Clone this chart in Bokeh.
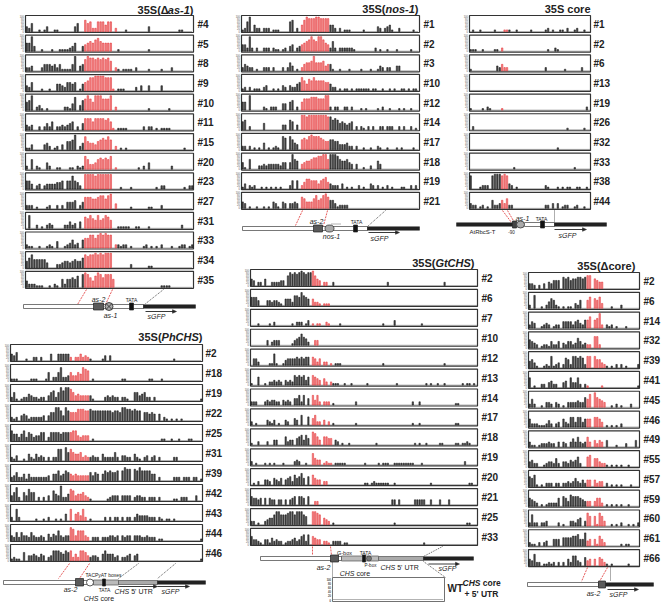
from bokeh.plotting import figure
from bokeh.models import ColumnDataSource, Range1d
from bokeh.embed import file_html
from bokeh.resources import INLINE
from bokeh.core.properties import value

FONT = "Liberation Sans"

# ---------------- data (methylation level per cytosine, digit = tenths of 90%) -------------
AS1_LABELS = ["#4", "#5", "#8", "#9", "#10", "#11", "#15", "#20", "#23", "#27", "#31", "#33", "#34", "#35"]
AS1_ROWS = [
    "3250010130" "0110000003" "5007562266" "6466020001" "0000000030" "0000000000" "110000",
    "5593001000" "1001111235" "0034565786" "5555001000" "0000000010",
    "2230002444" "3424111149" "0347988787" "8786021011" "1102000010" "0001000200",
    "3250001001" "0044325545" "0145688999" "9888101110" "0002030030" "0003000000",
    "5690231010" "0000022148" "0367975999" "7779020000" "0000000010" "0000001000",
    "3230020242" "5022323450" "2047775777" "7675101111" "0000002022" "0101111000",
    "1130000342" "0120305569" "0248544356" "7686020101" "0000000000" "0000000000" "001000",
    "2060210042" "0011000110" "2128633467" "6768010000" "0000102040" "0000000200",
    "5530230233" "3344505585" "4209999899" "9999000100" "0100000000" "0102200000" "001022",
    "2220100012" "0020204445" "0247776678" "8689030000" "0100000011" "0002000000",
    "0800201023" "2000022423" "0407686585" "6875001111" "1001100010" "0000000000" "020000",
    "2110010012" "1040012352" "3056688689" "8988022122" "0100001201" "0102000100" "122012",
    "4685555530" "0022344345" "4468788989" "8999000000" "0200000011",
    "4222111001" "0210525565" "7089864798" "6888500000" "0000000000" "0001111000",
]

NOS_LABELS = ["#1", "#2", "#3", "#10", "#12", "#14", "#17", "#18", "#19", "#21"]
NOS_ROWS = [
    "1269042202" "2201110000" "6702047988" "8998888442" "0201110000" "0100000320" "2341002000" "00100",
    "4429202002" "2202110120" "3402345679" "7699754262" "0222222100" "0000002010" "0100010000" "01000",
    "2432201002" "2202000202" "5301024556" "9555634410" "0100010000" "1000100132" "0220033000",
    "1202011102" "3001010320" "3224586476" "8666655422" "0101101011" "1111011001" "0010100110" "10110",
    "5509000002" "1022200440" "5602057778" "8877799202" "2002202000" "1010000102" "0010001010" "01000",
    "5602000004" "0000000330" "6503099899" "9999998867" "6454345020" "2102020022" "0222002020" "02010",
    "2202010104" "0101210870" "8643067689" "8887655665" "5333422020" "0100100210" "0100010100" "00100",
    "4106000223" "2333332440" "4965034556" "7788996999" "8655643030" "0100200530",
    "1302120010" "1010101000" "2505024665" "5535674322" "2030101002" "0100320201" "0201000110" "02020",
    "4301001001" "0104310430" "3343076444" "6856897553" "1222200000",
]

CORE_LABELS = ["#1", "#2", "#6", "#13", "#19", "#26", "#32", "#33", "#38", "#44"]
CORE_ROWS = [
    "0100100000" "1000111001" "0000010000" "0120100110" "2001200100",
    "1110010000" "1102000000" "0000000000" "0010021000",
    "1000000000" "0324220000" "0000000000" "0200000001" "0000002000",
    "",
    "1000010210" "0001000000" "0000000000" "0000000000" "0000000020",
    "0200000000" "0000000000" "0000000000" "0000000000" "1000000100",
    "0000000000" "0000000000" "0000000000" "0000001000",
    "0000000000" "0000000010" "0000000000" "0000000000" "0001000000",
    "8000122208" "9998983201" "0000000000" "0210001010" "1100110010",
    "3220120105" "2235362200" "0000000000" "0220303012" "2001200100",
]

PH_LABELS = ["#2", "#18", "#19", "#22", "#25", "#31", "#39", "#42", "#43", "#44", "#46"]
PH_ROWS = [
    "4350001002" "2020004004" "4444202242" "3210000130" "3000000000" "0000000000" "0000001000",
    "1110000011" "1000150225" "8223533548" "7601000000" "0000011000" "0000001100" "0100000000",
    "2510122432" "2122035625" "8688753433" "3331000023" "2322022100" "5534522020" "0000000000" "00000001",
    "2120343122" "2223035588" "6386555777" "6676666666" "6566588776" "7660554540" "4021010101",
    "6442462542" "3355025555" "4555566323" "3301000000" "0000000000" "0000000000" "0110010010" "00110000",
    "2130010421" "4232020227" "7085754452" "3223220422" "2252033220" "4210230230" "2000002200",
    "2352241422" "2222230446" "3465434333" "3353540465" "6556068770" "7686666440" "2000002220" "22202201",
    "3582053755" "0202030643" "9224763445" "3210000001" "2333033330" "2332202220" "2000001102" "22000300",
    "2072000000" "1001020010" "1040704537" "2010000020" "2022020220" "2433332220" "2101101000",
    "3252533253" "2232042436" "3233873666" "3202220222" "3323032330" "3332232220" "1100000000" "00000001",
    "1211050334" "3243023666" "5465624266" "5323320464" "4423022340" "3400000000" "0000000000" "00000001",
]

GT_LABELS = ["#2", "#6", "#7", "#10", "#12", "#13", "#14", "#17", "#18", "#19", "#20", "#21", "#25", "#33"]
GT_ROWS = [
    "4302204002" "2223306878" "7898788964" "3022002000" "0000000000" "0000000000" "2000000000" "0000000000" "0000020000",
    "5553000332" "3321044426" "6586540422" "1011100000",
    "0001000010" "2000000010" "2220130101" "1002100001" "0000000000" "0000000010" "0003000000" "0000010000",
    "0000000302" "3330000013" "4575420033",
    "0442000011" "7100134444" "5454550542" "4022010111" "0000000000" "0000000010" "0000000000" "0000000000" "0000010000",
    "1005001022" "3232032326" "5656350654" "3042021110" "0100100000" "0100000000" "0000100000" "0000000101" "0010010000" "0001011010",
    "2220002323" "3220323204" "4626040636" "2022201000" "0000002000" "0000000000" "0000000000" "0200200000" "0000000000" "1100000000",
    "2010000321" "3010032004" "3060050462" "2030201000" "0000001000" "0000000000" "0000000000" "0100100000" "0000000000" "1100000000",
    "1002000200" "3300052330" "4563640875" "3055440320" "1001000000" "0000010000" "0000000000" "0010100100" "0001100000" "1101121000",
    "2010001010" "1000100002" "3200100743" "3012110111" "1100000000" "1000001011" "1001111111" "1100010000" "0000000000" "0000200000",
    "0102003320" "4324034526" "4574050643" "3022000000" "0000000000" "1101211111" "1001000000" "0000000001" "0000000000" "0000001100",
    "5443404043" "3033030345" "0554050022" "0000000000" "0000000000" "0000000000" "0033030000" "0033333003" "0003000300",
    "2201002344" "6886667886" "8886500887" "6043201000" "0000000000" "0000000000" "0001000000" "0000000000" "0000000000" "0000011000",
    "5332103314" "2322012234" "2356260543" "3022102222" "0110000000" "0000000000" "0000000000" "0000001000",
]

DC_LABELS = ["#2", "#6", "#14", "#32", "#39", "#41", "#45", "#46", "#49", "#55", "#57", "#59", "#60", "#61", "#66"]
DC_ROWS = [
    "3320203043" "5550767566" "7767880654" "4000000000",
    "2080010246" "5210101103" "2500570657" "3000100020",
    "2430012320" "1220444424" "5325570569" "2021201000" "100000",
    "5432012214" "2240324423" "6423220772",
    "4531001217" "1230265277" "6762770755" "3210102020" "100002",
    "6010022034" "2200340633" "6202100000" "1000000000" "000001",
    "2520010332" "0320103333" "4336580965" "4300102010" "002000",
    "5222111242" "0230532663" "6635550665" "3010101020",
    "3110122232" "2030320353" "6323630424" "3040001000" "200040",
    "3422001233" "2520332434" "6200670553" "2210101010" "010000",
    "6571010222" "0220223235" "3242440423" "3020101010" "001000",
    "5432010122" "2250653766" "6543330355" "2010101010" "010000",
    "2722022300" "0020100332" "4503860618" "6300101020" "010102",
    "2110202300" "4440555566" "7448340416" "4200000010" "110000",
    "4372201121" "2020204266" "3205340405" "4210100000" "010000",
]

Y_TICKS = ["0", "20", "40", "60", "80", "100"]

PANELS = [
    dict(title=[("35S(Δ", False), ("as-1", True), (")", False)], tx=193, ty=9,
         x0=25, x1=193, y0=24, pitch=19.68, n=66, red=(23, 35), labels=AS1_LABELS, rows=AS1_ROWS, lx=197),
    dict(title=[("35S(", False), ("nos-1", True), (")", False)], tx=418, ty=8,
         x0=241, x1=419, y0=24, pitch=19.65, n=75, red=(25, 36), labels=NOS_LABELS, rows=NOS_ROWS, lx=423),
    dict(title=[("35S core", False)], tx=590, ty=8,
         x0=469, x1=590, y0=24, pitch=19.65, n=50, red=(13, 15), labels=CORE_LABELS, rows=CORE_ROWS, lx=593),
    dict(title=[("35S(", False), ("PhCHS", True), (")", False)], tx=202, ty=336,
         x0=10, x1=202, y0=353, pitch=20.0, n=78, red=(24, 31), labels=PH_LABELS, rows=PH_ROWS, lx=205),
    dict(title=[("35S(", False), ("GtCHS", True), (")", False)], tx=474, ty=262,
         x0=250, x1=477, y0=278, pitch=19.92, n=100, red=(27, 35), labels=GT_LABELS, rows=GT_ROWS, lx=481),
    dict(title=[("35S(Δcore)", False)], tx=634, ty=265,
         x0=528, x1=639, y0=281, pitch=19.79, n=46, red=(24, 31), labels=DC_LABELS, rows=DC_ROWS, lx=643),
]

# ---------------- figure ----------------
W, H = 661, 603
p = figure(width=W, height=H, x_range=Range1d(0, W), y_range=Range1d(H, 0),
           output_backend="svg", toolbar_location=None, min_border=0,
           x_axis_location=None, y_axis_location=None)
p.grid.visible = False
p.outline_line_color = None
p.background_fill_color = "white"

BW = {'3': 556, '5': 556, 'S': 667, '(': 333, ')': 333, 'Δ': 640, 'a': 556, 's': 556, '-': 333,
      '1': 556, 'n': 611, 'o': 611, ' ': 278, 'c': 556, 'r': 389, 'e': 556, 'P': 667, 'h': 611,
      'C': 722, 'H': 722, 'G': 778, 't': 333, "'": 238, 'U': 722, 'T': 611, 'R': 722}


def seg_w(s, size):
    return sum(BW.get(c, 556) for c in s) / 1000 * size


def txt(x, y, s, size, style="normal", align="left", color="#222", baseline="middle"):
    p.text(x=[x], y=[y], text=[s], text_font=value(FONT), text_font_size=f"{size}px",
           text_font_style=style, text_align=align, text_baseline=baseline, text_color=color)


def mixed(x, y, segs, size, bold=False, align="left", color="#222"):
    total = sum(seg_w(s, size) for s, _ in segs)
    if align == "right":
        x = x - total
    elif align == "center":
        x = x - total / 2
    for s, it in segs:
        st = ("bold " if bold else "") + ("italic" if it else "")
        st = st.strip() or "normal"
        lead = len(s) - len(s.lstrip(" "))
        x += lead * seg_w(" ", size)
        s2 = s.strip(" ")
        txt(x, y, s2, size, style=st, color=color)
        x += seg_w(s2, size)


bars = dict(x=[], top=[], bottom=[], fill=[], line=[], w=[])
boxes = dict(l=[], r=[], t=[], b=[])
base = dict(xs=[], ys=[])
ticks = dict(x=[], y=[], t=[])
labs = dict(x=[], y=[], t=[])


def add_ticks(x0, top, bot):
    for k, t in enumerate(Y_TICKS):
        ticks["x"].append(x0 - 1.5)
        ticks["y"].append(bot - 1 - k * (bot - top - 2) / 5)
        ticks["t"].append(t)


for cfg in PANELS:
    x0, x1, n = cfg["x0"], cfg["x1"], cfg["n"]
    dx = (x1 - x0) / n
    r0, r1 = cfg["red"]
    mixed(cfg["tx"], cfg["ty"], cfg["title"], 11, bold=True, align="right")
    for i, (lab, row) in enumerate(zip(cfg["labels"], cfg["rows"])):
        ly = cfg["y0"] + i * cfg["pitch"]
        top, bot = ly - 9, ly + 8
        boxes["l"].append(x0); boxes["r"].append(x1); boxes["t"].append(top); boxes["b"].append(bot)
        base["xs"].append([x0 + 1, x1 - 1]); base["ys"].append([bot - 1, bot - 1])
        add_ticks(x0, top, bot)
        labs["x"].append(cfg["lx"]); labs["y"].append(ly); labs["t"].append(lab)
        lv = [int(c) for c in row.ljust(n, "0")[:n]]
        for j, v in enumerate(lv):
            if v == 0:
                continue
            red = r0 <= j <= r1
            bars["x"].append(x0 + (j + 0.5) * dx)
            bars["bottom"].append(bot - 1)
            bars["top"].append(bot - 1 - v / 9 * (bot - top - 2.5))
            bars["fill"].append("#f28b8b" if red else "#4a4a4a")
            bars["line"].append("#e3262b" if red else "#111111")
            bars["w"].append(dx * 0.6)

p.quad(left="l", right="r", top="t", bottom="b", source=ColumnDataSource(boxes),
       fill_color="white", line_color="#333333", line_width=1.2)
p.multi_line(xs="xs", ys="ys", source=ColumnDataSource(base), line_color="#666666",
             line_width=1, line_dash="1 1")
p.vbar(x="x", width="w", top="top", bottom="bottom", fill_color="fill", line_color="line",
       line_width=0.5, source=ColumnDataSource(bars))
p.text(x="x", y="y", text="t", source=ColumnDataSource(ticks), text_font=value(FONT),
       text_font_size="2.6px", text_align="right", text_baseline="middle", text_color="#555555")
p.text(x="x", y="y", text="t", source=ColumnDataSource(labs), text_font=value(FONT),
       text_font_size="10px", text_font_style="bold", text_align="left", text_baseline="middle",
       text_color="#222222")


# ---------------- construct diagrams ----------------
def wbar(a, b, y, h=4):
    p.quad(left=[a], right=[b], top=[y - h / 2], bottom=[y + h / 2], fill_color="white",
           line_color="#555555", line_width=0.8)


def kbar(a, b, y, h=3.5):
    p.quad(left=[a], right=[b], top=[y - h / 2], bottom=[y + h / 2], fill_color="#222222",
           line_color="#222222", line_width=0.5)


def rect(a, b, t, bt, fill, line="#222222"):
    p.quad(left=[a], right=[b], top=[t], bottom=[bt], fill_color=fill, line_color=line, line_width=0.7)


def dotted(a, b, y):
    wbar(a, b, y)
    p.line([a + 1, b - 1], [y, y], line_color="#555555", line_width=3, line_dash="1 1")


def link(xa, ya, xb, yb, red=True):
    p.line([xa, xb], [ya, yb], line_color="#e03030" if red else "#333333", line_width=0.8,
           line_dash="2 1" if red else "1 1")


def arrow(a, b, y):
    p.line([a, b - 2], [y, y], line_color="#222222", line_width=0.9)
    p.patch([b - 4, b, b - 4], [y - 1.8, y, y + 1.8], fill_color="#222222", line_color="#222222",
            line_width=0.5)


# 35S(Δas-1)
link(86, 289, 77, 304); link(112, 289, 105, 304); link(163, 289, 144, 304, red=False)
wbar(23, 143, 306)
rect(93, 103, 302.5, 309.5, "#5a5a5a")
p.scatter([108.5], [306], marker="circle_x", size=8, fill_color="#aaaaaa", line_color="#222222",
          line_width=0.8)
rect(129, 133, 302.5, 309.5, "#111111")
kbar(143, 195, 306)
txt(98, 299, "as-2", 7, "italic", "center")
txt(110, 315, "as-1", 7, "italic", "center")
txt(131, 299, "TATA", 5, "normal", "center")
arrow(145, 176, 311)
txt(156, 316, "sGFP", 7, "italic", "center")

# 35S(nos-1)
link(302, 210, 295, 225); link(327, 210, 323, 225); link(385, 210, 367, 226, red=False)
wbar(242, 367, 228)
rect(313, 322, 224.5, 231.5, "#5a5a5a")
p.ellipse(x=[329], y=[228], width=9, height=7, fill_color="#aaaaaa", line_color="#333333",
          line_width=0.8)
p.line([331, 341], [223.5, 223.5], line_color="#666666", line_width=1, line_dash="1 1")
rect(353, 357, 224.5, 231.5, "#111111")
kbar(367, 419, 228)
txt(316, 221, "as-2", 7, "italic", "center")
txt(331, 236, "nos-1", 7, "italic", "center")
txt(356, 221, "TATA", 5, "normal", "center")
arrow(368, 399, 232)
txt(379, 238, "sGFP", 7, "italic", "center")

# 35S core
link(502, 210, 511, 222); link(507, 210, 514, 222); link(554, 210, 554, 222, red=False)
kbar(456, 512, 224)
rect(512, 516, 220.5, 227.5, "#444444")
p.ellipse(x=[520], y=[224], width=8, height=7, fill_color="#aaaaaa", line_color="#333333",
          line_width=0.8)
wbar(524, 554, 224)
rect(540, 544, 220.5, 227.5, "#111111")
kbar(554, 606, 224)
txt(482, 231, "AtRbcS-T", 6, "normal", "center")
txt(511, 231.5, "-90", 4.5, "normal", "center")
txt(522, 218, "as-1", 7, "italic", "center")
txt(541, 218, "TATA", 5, "normal", "center")
arrow(554, 586, 229)
txt(567, 235, "sGFP", 7, "italic", "center")

# 35S(PhCHS)
link(69, 563, 58, 578); link(89, 563, 79, 578)
link(138, 563, 118, 578, red=False); link(175, 563, 157, 578, red=False)
wbar(3, 118, 582)
rect(75, 83, 578, 585.5, "#5a5a5a")
rect(93, 118, 579.5, 584.5, "#bbbbbb", "#555555")
p.scatter([89.5], [582], marker="circle", size=7, fill_color="white", line_color="#333333",
          line_width=0.8)
rect(102, 105, 578.5, 585.5, "#111111")
dotted(118, 157, 582)
kbar(157, 205, 582)
txt(103, 574, "TACPyAT boxes", 5, "normal", "center")
txt(70, 589, "as-2", 7, "italic", "center")
txt(104, 589.5, "TATA", 5, "normal", "center")
arrow(118, 157, 586)
arrow(157, 189, 586)
mixed(114, 591, [("CHS", True), (" 5'  UTR", False)], 7)
txt(170, 591, "sGFP", 7, "italic", "center")
mixed(99, 598, [("CHS", True), (" core", False)], 7, align="center")

# 35S(GtCHS)
link(312, 546, 312, 555); link(330, 546, 331, 555)
link(442, 546, 423, 556, red=False)
link(332, 561, 332, 577, red=False); link(423, 561, 445, 577, red=False)
wbar(260, 341, 558)
rect(330, 338, 554.5, 561.5, "#5a5a5a")
rect(341, 378, 555.5, 560.5, "#bbbbbb", "#555555")
rect(362, 365, 554.5, 561.5, "#111111")
p.ellipse(x=[368.5], y=[558], width=5, height=5, fill_color="#777777", line_color="#333333",
          line_width=0.6)
dotted(378, 423, 558)
kbar(423, 473, 558)
txt(344, 552, "G-box", 5.5, "normal", "center")
txt(365, 552, "TATA", 5, "normal", "center")
txt(323, 567, "as-2", 7, "italic", "center")
txt(370, 565, "P-box", 4.5, "normal", "center")
mixed(355, 573, [("CHS", True), (" core", False)], 7, align="center")
mixed(380, 567, [("CHS", True), (" 5'  UTR", False)], 7)
arrow(428, 459, 563.5)
txt(447, 567.5, "sGFP", 7, "italic", "center")
rect(332, 444, 577, 601, "white", "#333333")
p.line([333, 443], [599, 599], line_color="#666666", line_width=1, line_dash="1 1")
add_ticks(332, 578, 601)
p.text(x=ticks["x"][-6:], y=ticks["y"][-6:], text=ticks["t"][-6:], text_font=value(FONT),
       text_font_size="2.6px", text_align="right", text_baseline="middle", text_color="#555555")
txt(447, 588, "WT", 10, "bold")
mixed(462, 582, [("CHS", True), (" core", False)], 8.5, bold=True)
txt(464, 593, "+ 5' UTR", 8.5, "bold")

# 35S(Δcore)
link(587, 567, 581, 581); link(607, 567, 599, 581); link(610, 567, 610, 581, red=False)
wbar(527, 598, 584)
rect(598, 605, 580.5, 587.5, "#5a5a5a")
kbar(605, 653, 584)
txt(593, 593, "as-2", 7, "italic", "center")
arrow(607, 638, 589)
txt(618, 594, "sGFP", 7, "italic", "center")

open("out.html", "w").write(file_html(p, INLINE))
